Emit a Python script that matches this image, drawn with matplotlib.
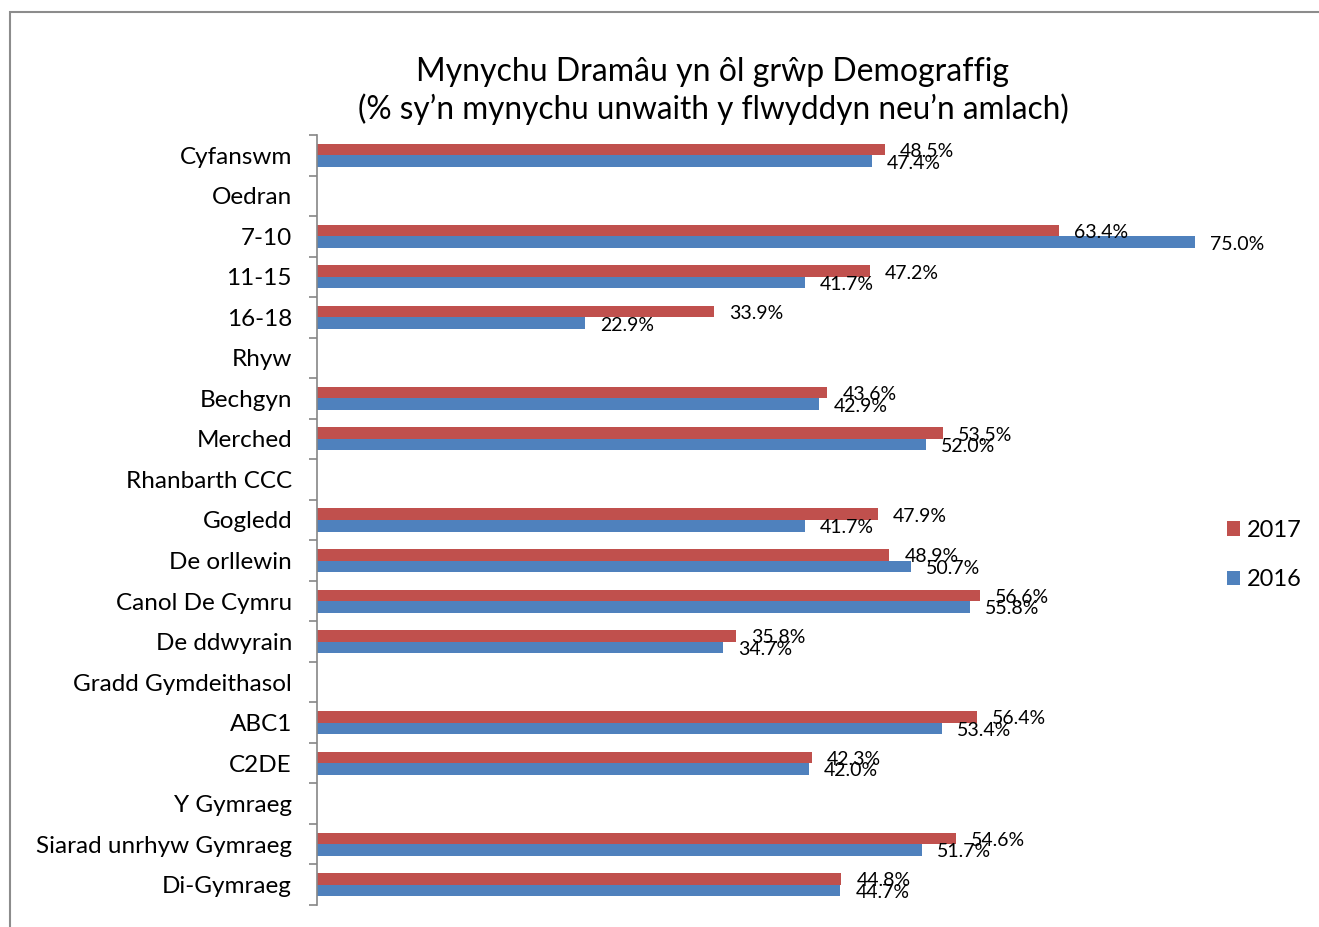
import numpy as np
import matplotlib
matplotlib.use("Agg")
import matplotlib.pyplot as plt
from matplotlib.patches import Rectangle

categories = ["Cyfanswm", "Oedran", "7-10", "11-15", "16-18", "Rhyw", "Bechgyn", "Merched",
              "Rhanbarth CCC", "Gogledd", "De orllewin", "Canol De Cymru", "De ddwyrain",
              "Gradd Gymdeithasol", "ABC1", "C2DE", "Y Gymraeg", "Siarad unrhyw Gymraeg", "Di-Gymraeg"]
values_2017 = [48.5, None, 63.4, 47.2, 33.9, None, 43.6, 53.5, None, 47.9, 48.9, 56.6, 35.8,
               None, 56.4, 42.3, None, 54.6, 44.8]
values_2016 = [47.4, None, 75.0, 41.7, 22.9, None, 42.9, 52.0, None, 41.7, 50.7, 55.8, 34.7,
               None, 53.4, 42.0, None, 51.7, 44.7]
series_names = ["2017", "2016"]
colors = ["#C0504D", "#4F81BD"]
title = "Mynychu Dramâu yn ôl grŵp Demograffig"
subtitle = "(% sy’n mynychu unwaith y flwyddyn neu’n amlach)"

plt.rcParams['font.family'] = ['Lato', 'DejaVu Sans']

W, H = 1319, 927
fig = plt.figure(figsize=(W / 100, H / 100), dpi=100)

# outer border
fig.patches.append(Rectangle((10 / W, -0.1), 1.2, (H - 12) / H + 0.1, transform=fig.transFigure,
                             fill=False, edgecolor="#8C8C8C", linewidth=1.5))

ax = fig.add_axes([317 / W, (H - 905) / H, (1200 - 317) / W, (905 - 135) / H])
n = len(categories)
y = np.arange(n)
bh = 0.285
px_per_unit = 11.707
xmax = (1200 - 317) / px_per_unit
ax.set_xlim(0, xmax)
ax.set_ylim(n - 0.5, -0.5)

for vals, off, col, name in [(values_2017, -bh / 2, colors[0], series_names[0]),
                             (values_2016, bh / 2, colors[1], series_names[1])]:
    idx = [i for i, v in enumerate(vals) if v is not None]
    v = [vals[i] for i in idx]
    ax.barh(y[idx] + off, v, height=bh, color=col, label=name)
    for i, val in zip(idx, v):
        ax.annotate(f"{val:.1f}%", (val, y[i] + off), xytext=(15, -2), textcoords="offset pixels",
                    va="center", ha="left", fontsize=14, annotation_clip=False)

for s in ["top", "right", "bottom"]:
    ax.spines[s].set_visible(False)
ax.spines["left"].set_color("#868686")
ax.spines["left"].set_linewidth(1.2)
ax.set_xticks([])
ax.set_yticks(np.arange(-0.5, n, 1.0))
ax.set_yticklabels([])
ax.set_yticks(y, minor=True)
ax.set_yticklabels(categories, minor=True, fontsize=17.5)
ax.tick_params(axis="y", which="major", length=6, color="#868686", width=1.2)
ax.tick_params(axis="y", which="minor", length=0, pad=18)

fig.text(713 / W, 1 - 72 / H, title, ha="center", va="center", fontsize=23)
fig.text(713 / W, 1 - 109 / H, subtitle, ha="center", va="center", fontsize=22.7)

handles, labels = ax.get_legend_handles_labels()
fig.legend(handles, labels, loc="center left", bbox_to_anchor=(1227 / W, 1 - 555 / H),
           frameon=False, fontsize=17, handlelength=0.55, handleheight=0.55,
           handletextpad=0.3, labelspacing=1.2, borderpad=0, borderaxespad=0)

fig.savefig("out.png", dpi=100)
